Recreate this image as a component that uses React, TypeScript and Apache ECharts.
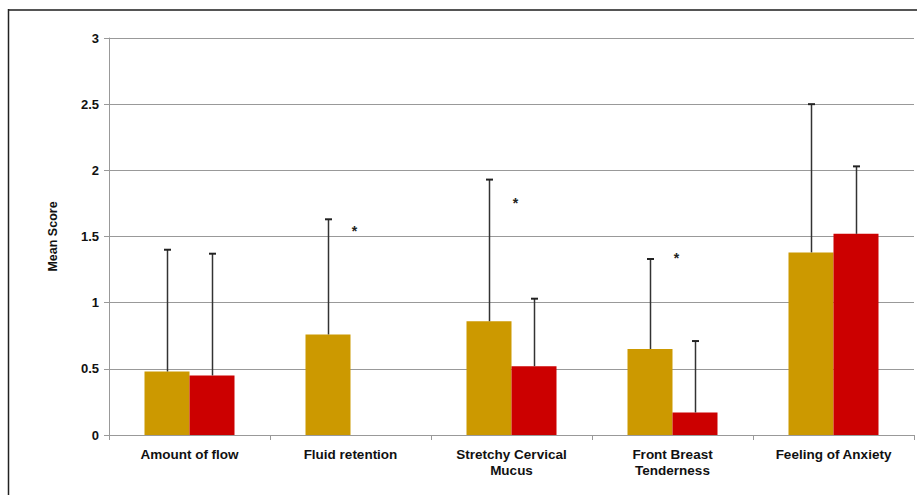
import React, { useEffect, useRef } from "react";
import * as echarts from "echarts";

const categories = [
  "Amount of flow",
  "Fluid retention",
  "Stretchy Cervical\nMucus",
  "Front Breast\nTenderness",
  "Feeling of Anxiety",
];
const goldMeans = [0.48, 0.76, 0.86, 0.65, 1.38];
const redMeans = [0.45, 0, 0.52, 0.17, 1.52];
const goldUpper = [1.4, 1.63, 1.93, 1.33, 2.5];
const redUpper = [1.37, null, 1.03, 0.71, 2.03];
const asteriskValues = [null, 1.54, 1.75, 1.34, null];
const yTicks = { min: 0, max: 3, interval: 0.5 };

const BAR_W = 45;
const FONT = "Liberation Sans, Arial, sans-serif";

export default function App() {
  const ref = useRef<HTMLDivElement>(null);
  useEffect(() => {
    const chart = echarts.init(ref.current!, null, { renderer: "svg" });
    const errData: any[] = [];
    goldMeans.forEach((m, i) => {
      if (goldUpper[i] != null) errData.push([i, m, goldUpper[i], -1]);
    });
    redMeans.forEach((m, i) => {
      if (redUpper[i] != null) errData.push([i, m, redUpper[i], 1]);
    });
    const starData = asteriskValues
      .map((v, i) => (v == null ? null : [i, v]))
      .filter((d) => d != null);

    chart.setOption({
      animation: false,
      backgroundColor: "#fff",
      textStyle: { fontFamily: FONT },
      graphic: [
        {
          type: "line",
          shape: { x1: 8, y1: 10, x2: 917, y2: 10 },
          style: { stroke: "#555", lineWidth: 2 },
        },
        {
          type: "line",
          shape: { x1: 8.5, y1: 9, x2: 8.5, y2: 495 },
          style: { stroke: "#222", lineWidth: 1.5 },
        },
      ],
      grid: { left: 109, right: 3, top: 38, bottom: 60 },
      xAxis: {
        type: "category",
        data: categories,
        axisLine: { lineStyle: { color: "#999", width: 1 } },
        axisTick: { show: true, length: 5, lineStyle: { color: "#999" } },
        axisLabel: {
          color: "#111",
          fontWeight: "bold",
          fontSize: 13.5,
          margin: 11,
          lineHeight: 16,
          interval: 0,
        },
      },
      yAxis: {
        type: "value",
        min: yTicks.min,
        max: yTicks.max,
        interval: yTicks.interval,
        name: "Mean Score",
        nameLocation: "middle",
        nameRotate: 90,
        nameGap: 50,
        nameTextStyle: { color: "#111", fontWeight: "bold", fontSize: 12.5 },
        axisLine: { show: true, lineStyle: { color: "#999" } },
        axisTick: { show: true, length: 5, lineStyle: { color: "#999" } },
        axisLabel: { color: "#111", fontWeight: "bold", fontSize: 13, margin: 10 },
        splitLine: { lineStyle: { color: "#999", width: 1 } },
      },
      series: [
        {
          type: "bar",
          data: goldMeans,
          barWidth: BAR_W,
          barGap: "0%",
          itemStyle: { color: "#CC9900" },
        },
        {
          type: "bar",
          data: redMeans,
          barWidth: BAR_W,
          barGap: "0%",
          itemStyle: { color: "#CC0000" },
        },
        {
          type: "custom",
          data: errData,
          encode: { x: 0, y: [1, 2] },
          z: 5,
          renderItem: (params: any, api: any) => {
            const i = api.value(0);
            const lo = api.coord([i, api.value(1)]);
            const hi = api.coord([i, api.value(2)]);
            const dx = (api.value(3) * BAR_W) / 2;
            const x = Math.round(lo[0] + dx) + 0.5;
            const style = { stroke: "#333", lineWidth: 1.5 };
            return {
              type: "group",
              children: [
                { type: "line", shape: { x1: x, y1: lo[1], x2: x, y2: hi[1] }, style },
                { type: "line", shape: { x1: x - 3.5, y1: hi[1], x2: x + 3.5, y2: hi[1] }, style: { stroke: "#222", lineWidth: 2 } },
              ],
            };
          },
        },
        {
          type: "custom",
          data: starData,
          encode: { x: 0, y: 1 },
          z: 6,
          renderItem: (params: any, api: any) => {
            const p = api.coord([api.value(0), api.value(1)]);
            return {
              type: "text",
              x: p[0] + 4,
              y: p[1],
              style: {
                text: "*",
                fill: "#222",
                font: "bold 14px " + FONT,
                align: "center",
                verticalAlign: "middle",
              },
            };
          },
        },
      ],
    });
    return () => chart.dispose();
  }, []);
  return (
    <div
      ref={ref}
      style={{ position: "absolute", left: 0, top: 0, width: 917, height: 495 }}
    />
  );
}
